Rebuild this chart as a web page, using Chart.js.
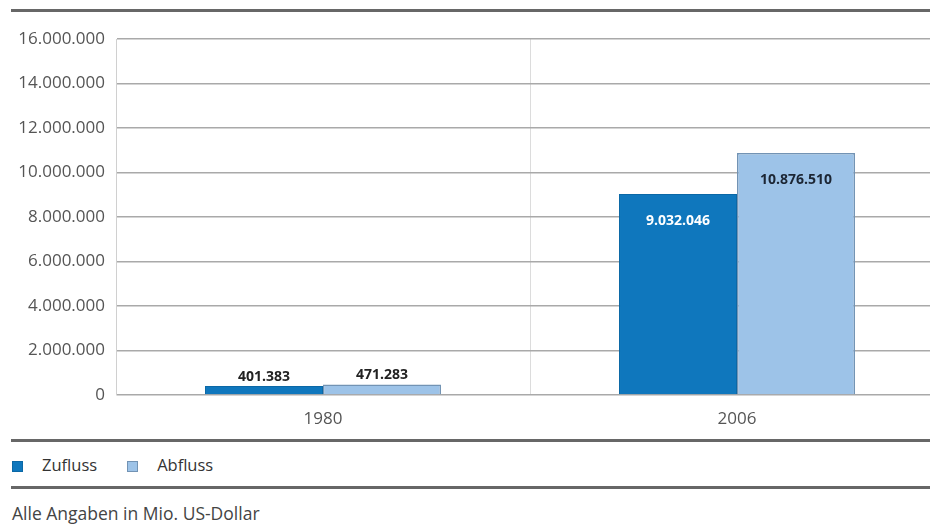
<!DOCTYPE html>
<html>
<head>
<meta charset="utf-8">
<script src="https://cdn.jsdelivr.net/npm/chart.js@4.4.1/dist/chart.umd.min.js"></script>
<style>
  body { margin: 0; background: #fff; font-family: "Open Sans", sans-serif; }
  #wrap { position: relative; width: 930px; height: 532px; overflow: hidden; }
  .rule { position: absolute; left: 11px; width: 919px; height: 3px; background: #676767; }
  #box { position: absolute; left: 0; top: 0; width: 944px; height: 436px; }
  #legend { position: absolute; left: 12px; top: 453px; font-size: 16.5px; color: #333; }
  #legend span.sw { display: inline-block; width: 11px; height: 11px; vertical-align: -1px; margin-right: 19px; box-sizing: border-box; }
  #legend span.item { margin-right: 30px; }
  #note { position: absolute; left: 12px; top: 501px; font-size: 17.5px; color: #444; }
</style>
</head>
<body>
<div id="wrap">
  <div class="rule" style="top:9px"></div>
  <div id="box"><canvas id="chart"></canvas></div>
  <div class="rule" style="top:439px"></div>
  <div id="legend"></div>
  <div class="rule" style="top:486px"></div>
  <div id="note">Alle Angaben in Mio. US-Dollar</div>
</div>
<script>
const years = ['1980', '2006'];
const zufluss = [401383, 9032046];
const abfluss = [471283, 10876510];
const yTicks = [0, 2000000, 4000000, 6000000, 8000000, 10000000, 12000000, 14000000, 16000000];

const colZu = '#0f77bd';
const colAb = '#9dc3e8';

function fmt(v) {
    return String(v).replace(/\B(?=(\d{3})+(?!\d))/g, '.');
}

// value labels: above small bars, inside near the top for tall ones
const valueLabels = {
    id: 'valueLabels',
    afterDatasetsDraw(chart) {
        const ctx = chart.ctx;
        ctx.save();
        ctx.font = 'bold 14px "Open Sans", sans-serif';
        ctx.textAlign = 'center';
        chart.data.datasets.forEach((ds, i) => {
            chart.getDatasetMeta(i).data.forEach((bar, j) => {
                const v = ds.data[j];
                const h = bar.base - bar.y;
                if (h < 40) {
                    ctx.fillStyle = '#222';
                    ctx.textBaseline = 'bottom';
                    ctx.fillText(fmt(v), bar.x, bar.y - 2);
                } else {
                    ctx.fillStyle = i === 0 ? '#fff' : '#1c2634';
                    ctx.textBaseline = 'middle';
                    ctx.fillText(fmt(v), bar.x, bar.y + 27);
                }
            });
        });
        ctx.restore();
    }
};

const ctx = document.getElementById('chart').getContext('2d');
const chart = new Chart(ctx, {
    type: 'bar',
    data: {
        labels: years,
        datasets: [{
            label: 'Zufluss',
            data: zufluss,
            backgroundColor: colZu,
            borderColor: '#0b68a6',
            borderWidth: 1,
            categoryPercentage: 0.57,
            barPercentage: 1
        }, {
            label: 'Abfluss',
            data: abfluss,
            backgroundColor: colAb,
            borderColor: '#7293b4',
            borderWidth: 1.5,
            categoryPercentage: 0.57,
            barPercentage: 1
        }]
    },
    options: {
        responsive: true,
        maintainAspectRatio: false,
        animation: false,
        layout: { padding: { top: 39, left: 0, right: 0, bottom: 0 } },
        plugins: {
            legend: { display: false },
            tooltip: { enabled: false }
        },
        scales: {
            x: {
                grid: { color: '#dcdcdc', drawTicks: false },
                border: { display: false },
                ticks: { color: '#555', font: { size: 17, family: '"Open Sans", sans-serif' }, padding: 14 },
                afterFit: s => { s.height = 41; }
            },
            y: {
                min: 0,
                max: 16000000,
                afterBuildTicks: s => { s.ticks = yTicks.map(v => ({ value: v })); },
                grid: { color: '#a9a9a9', lineWidth: 1.5, drawTicks: false },
                border: { color: '#d0d0d0' },
                ticks: {
                    color: '#555',
                    font: { size: 17, family: '"Open Sans", sans-serif' },
                    padding: 11,
                    callback: v => fmt(v)
                },
                afterFit: s => { s.width = 116; }
            }
        }
    },
    plugins: [valueLabels]
});

// legend built from the datasets
const leg = document.getElementById('legend');
chart.data.datasets.forEach(ds => {
    const item = document.createElement('span');
    item.className = 'item';
    item.innerHTML = '<span class="sw" style="background:' + ds.backgroundColor +
        ';border:1px solid ' + ds.borderColor + '"></span>' + ds.label;
    leg.appendChild(item);
});
</script>
</body>
</html>
